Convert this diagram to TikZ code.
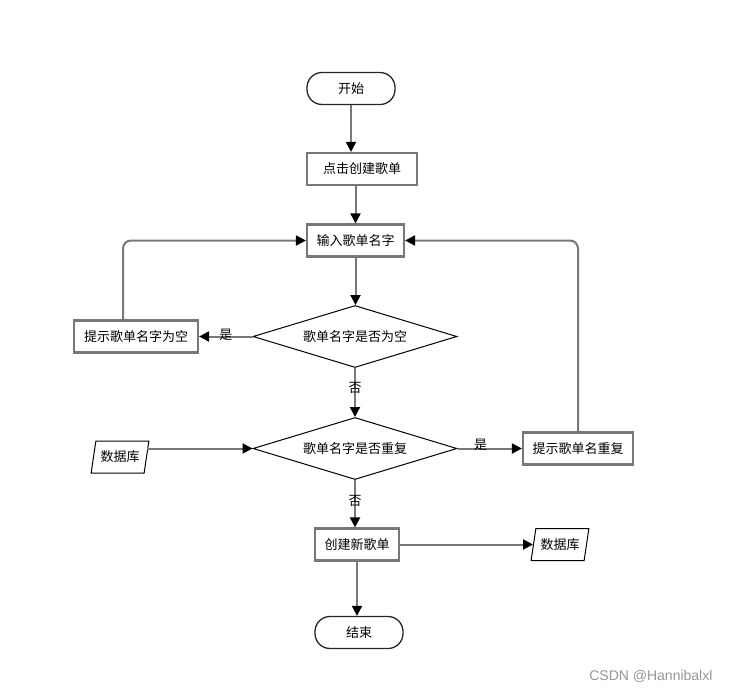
\documentclass[tikz,border=0pt]{standalone}
\usepackage{fontspec}
\setmainfont{Noto Sans CJK SC}
\newfontfamily\markfont{Liberation Sans}
\usetikzlibrary{shapes.geometric, arrows.meta}
\definecolor{linegray}{RGB}{120,120,120}
\definecolor{markgray}{RGB}{150,150,150}
\tikzstyle{terminal} = [rectangle, rounded corners=15pt, minimum width=88pt, minimum height=32pt, text centered, draw=black!85, line width=1.3pt]
\tikzstyle{process} = [rectangle, minimum height=32pt, inner sep=0pt, text centered, draw=linegray, line width=2.2pt]
\tikzstyle{decision} = [diamond, aspect=3.3, minimum width=204pt, minimum height=62pt, inner sep=0pt, text centered, draw=black, line width=1pt]
\tikzstyle{io} = [trapezium, trapezium left angle=74, trapezium right angle=106, trapezium stretches=true, minimum width=58pt, minimum height=32pt, inner sep=1pt, text centered, draw=black, line width=1pt]
\tikzstyle{arrow} = [draw=linegray, line width=2pt, rounded corners=8pt, -{Triangle[length=10pt, width=10pt, fill=black, color=black]}]

\begin{document}
\begin{tikzpicture}[x=1pt, y=-1pt, node distance=96pt, font=\fontsize{13}{15}\selectfont]
\useasboundingbox (0,0) rectangle (730,691);

\node (start) [terminal] at (351,88.5) {开始};
\node (click) [process, minimum width=110pt, xshift=11pt, yshift=15.5pt, below of=start] {点击创建歌单};
\node (input) [process, minimum width=97pt, xshift=-6.5pt, yshift=24.5pt, below of=click] {输入歌单名字};
\node (isEmpty) [decision, xshift=-0.5pt, below of=input] {歌单名字是否为空};
\node (isDup) [decision, yshift=-16pt, below of=isEmpty] {歌单名字是否重复};
\node (create) [process, minimum width=84pt, xshift=2pt, below of=isDup] {创建新歌单};
\node (stop) [terminal, xshift=2pt, yshift=8pt, below of=create] {结束};
\node (emptyMsg) [process, minimum width=124pt, xshift=-123pt, left of=isEmpty] {提示歌单名字为空};
\node (dupMsg) [process, minimum width=110pt, xshift=127pt, right of=isDup] {提示歌单名重复};
\node (dbIn) [io, xshift=-139pt, yshift=-8.5pt, left of=isDup] {数据库};
\node (dbOut) [io, xshift=107pt, right of=create] {数据库};
\node (mark) [font=\markfont\fontsize{14}{16}\selectfont, text=markgray, anchor=east] at (716,676) {CSDN @Hannibalxl};

\draw [arrow] (start.south) -- (start.south |- click.north);
\draw [arrow] (input.north |- click.south) -- (input.north);
\draw [arrow] (input.south) -- (input.south |- isEmpty.north);
\draw [arrow] (isEmpty) -- node [yshift=2pt] {是} (emptyMsg);
\draw [arrow] ([xshift=-13pt]emptyMsg.north) |- (input.west);
\draw [arrow] (isEmpty) -- node [pos=0.41] {否} (isDup);
\draw [arrow] (dbIn.east |- isDup.west) -- (isDup.west);
\draw [arrow] (isDup) -- node [pos=0.36, yshift=4pt] {是} (dupMsg);
\draw [arrow] (dupMsg.north) |- (input.east);
\draw [arrow] (isDup.south) -- node [pos=0.45] {否} (isDup.south |- create.north);
\draw [arrow] (create) -- (dbOut);
\draw [arrow] (create.south) -- (create.south |- stop.north);

\end{tikzpicture}
\end{document}
